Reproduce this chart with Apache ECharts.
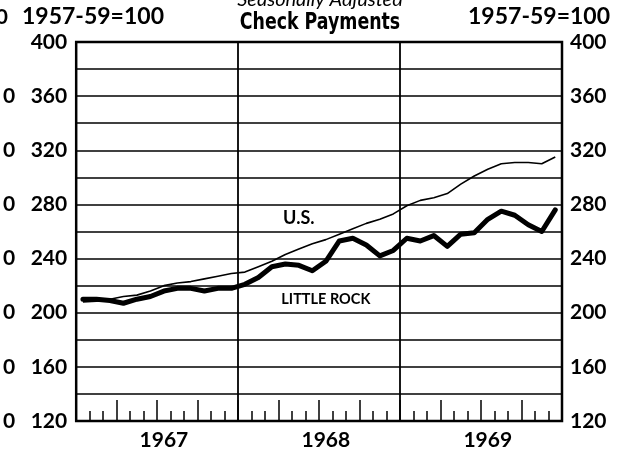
<!DOCTYPE html>
<html>
<head>
<meta charset="utf-8">
<title>Check Payments</title>
<script src="https://cdn.jsdelivr.net/npm/echarts@6/dist/echarts.min.js"></script>
<style>
html, body { margin: 0; padding: 0; background: #fff; }
#chart { width: 632px; height: 457px; }
</style>
</head>
<body>
<div id="chart"></div>
<script>
// data: monthly index, 1957-59=100
var years = ['1967', '1968', '1969'];
var monthNames = ['Jan', 'Feb', 'Mar', 'Apr', 'May', 'Jun', 'Jul', 'Aug', 'Sep', 'Oct', 'Nov', 'Dec'];
var usValues = [
    208, 208.5, 210, 212, 213, 216, 220, 222, 223, 225, 227, 229,
    230, 234, 238, 243, 247, 251, 254, 258, 262, 266, 269, 273,
    279, 283, 285, 288, 295, 301, 306, 310, 311, 311, 310, 315
];
var littleRockValues = [
    210, 210, 209, 207, 210, 212, 216, 218, 218, 216, 218, 218,
    221, 226, 234, 236, 235, 231, 238, 253, 255, 250, 242, 246,
    255, 253, 257, 249, 258, 259, 269, 275, 272, 265, 260, 276
];
var yLabels = [120, 160, 200, 240, 280, 320, 360, 400];
var baseText = '1957-59=100';

var months = [];
for (var y = 0; y < years.length; y++) {
    for (var m = 0; m < monthNames.length; m++) {
        months.push(monthNames[m] + ' ' + years[y]);
    }
}

var font = 'Lato, "DejaVu Sans", sans-serif';

function numLabel(formatter, margin) {
    return {
        formatter: formatter,
        margin: margin,
        color: '#000',
        fontFamily: font,
        fontWeight: 'bold',
        fontSize: 21
    };
}

function showLevel(v) {
    return yLabels.indexOf(v) >= 0 ? String(v) : '';
}

var chart = echarts.init(document.getElementById('chart'), null, { renderer: 'canvas' });

var option = {
    animation: false,
    backgroundColor: '#fff',
    grid: {
        left: 69,
        right: 70,
        top: 42,
        bottom: 36,
        show: true,
        borderColor: '#000',
        borderWidth: 2.5,
        backgroundColor: 'transparent'
    },
    graphic: [
        {
            // subtitle is cut off at the top edge of the scan
            type: 'text', x: 320, y: 10,
            style: { text: 'Seasonally Adjusted', fill: '#000', font: 'italic 20px ' + font, textAlign: 'center', textVerticalAlign: 'bottom' }
        },
        {
            type: 'text', x: 320, y: 23, scaleX: 0.84,
            style: { text: 'Check Payments', fill: '#000', font: 'bold 23px "DejaVu Sans Condensed", ' + font, textAlign: 'center', textVerticalAlign: 'middle' }
        },
        {
            type: 'text', x: 22, y: 17,
            style: { text: baseText, fill: '#000', font: 'bold 23px ' + font, textAlign: 'left', textVerticalAlign: 'middle' }
        },
        {
            type: 'text', x: 610, y: 17,
            style: { text: baseText, fill: '#000', font: 'bold 23px ' + font, textAlign: 'right', textVerticalAlign: 'middle' }
        },
        {
            type: 'text', x: 8, y: 17,
            style: { text: '0', fill: '#000', font: 'bold 21px ' + font, textAlign: 'right', textVerticalAlign: 'middle' }
        }
    ],
    xAxis: [
        {
            type: 'category',
            position: 'bottom',
            data: months,
            boundaryGap: true,
            axisLine: { show: false },
            axisTick: {
                show: true,
                inside: true,
                length: 10,
                interval: 0,
                lineStyle: { color: '#000', width: 1.5 }
            },
            axisLabel: {
                interval: function (index) { return index % 12 === 6; },
                formatter: function (value, index) { return years[Math.floor(index / 12)]; },
                margin: 9,
                color: '#000',
                fontFamily: font,
                fontWeight: 'bold',
                fontSize: 21
            },
            splitLine: {
                show: true,
                interval: function (index) { return index > 0 && index % 12 === 0; },
                lineStyle: { color: '#000', width: 1.8 }
            }
        },
        {
            // taller ticks for the quarters
            type: 'category',
            position: 'bottom',
            data: months,
            boundaryGap: true,
            axisLine: { show: false },
            axisTick: {
                show: true,
                inside: true,
                length: 21,
                interval: function (index) { return index % 3 === 0; },
                lineStyle: { color: '#000', width: 1.5 }
            },
            axisLabel: { show: false },
            splitLine: { show: false }
        }
    ],
    yAxis: [
        {
            type: 'value',
            position: 'left',
            min: 120,
            max: 400,
            interval: 20,
            axisLine: { show: false },
            axisTick: { show: false },
            axisLabel: numLabel(showLevel, 9),
            splitLine: { show: true, lineStyle: { color: '#000', width: 1.6 } }
        },
        {
            type: 'value',
            position: 'right',
            min: 120,
            max: 400,
            interval: 20,
            axisLine: { show: false },
            axisTick: { show: false },
            axisLabel: numLabel(showLevel, 8),
            splitLine: { show: false }
        },
        {
            // stray zeros cut off from the neighbouring chart
            type: 'value',
            position: 'left',
            offset: 53,
            min: 120,
            max: 400,
            interval: 20,
            axisLine: { show: false },
            axisTick: { show: false },
            axisLabel: numLabel(function (v) { return yLabels.indexOf(v) >= 0 && v < 400 ? '0' : ''; }, 8),
            splitLine: { show: false }
        }
    ],
    series: [
        {
            name: 'U.S.',
            type: 'line',
            data: usValues,
            showSymbol: false,
            lineStyle: { color: '#000', width: 1.6, join: 'round' },
            markPoint: {
                symbol: 'rect',
                symbolSize: 1,
                itemStyle: { color: 'rgba(0,0,0,0)' },
                label: { show: true, position: 'inside', formatter: 'U.S.', color: '#000', fontFamily: font, fontWeight: 'bold', fontSize: 18 },
                data: [{ coord: [months[16], 270] }]
            }
        },
        {
            name: 'LITTLE ROCK',
            type: 'line',
            data: littleRockValues,
            showSymbol: false,
            lineStyle: { color: '#000', width: 5, join: 'round', cap: 'round' },
            markPoint: {
                symbol: 'rect',
                symbolSize: 1,
                itemStyle: { color: 'rgba(0,0,0,0)' },
                label: { show: true, position: 'inside', formatter: 'LITTLE ROCK', color: '#000', fontFamily: font, fontWeight: 'bold', fontSize: 14.5 },
                data: [{ coord: [months[18], 210] }]
            }
        }
    ]
};

chart.setOption(option);
</script>
</body>
</html>
